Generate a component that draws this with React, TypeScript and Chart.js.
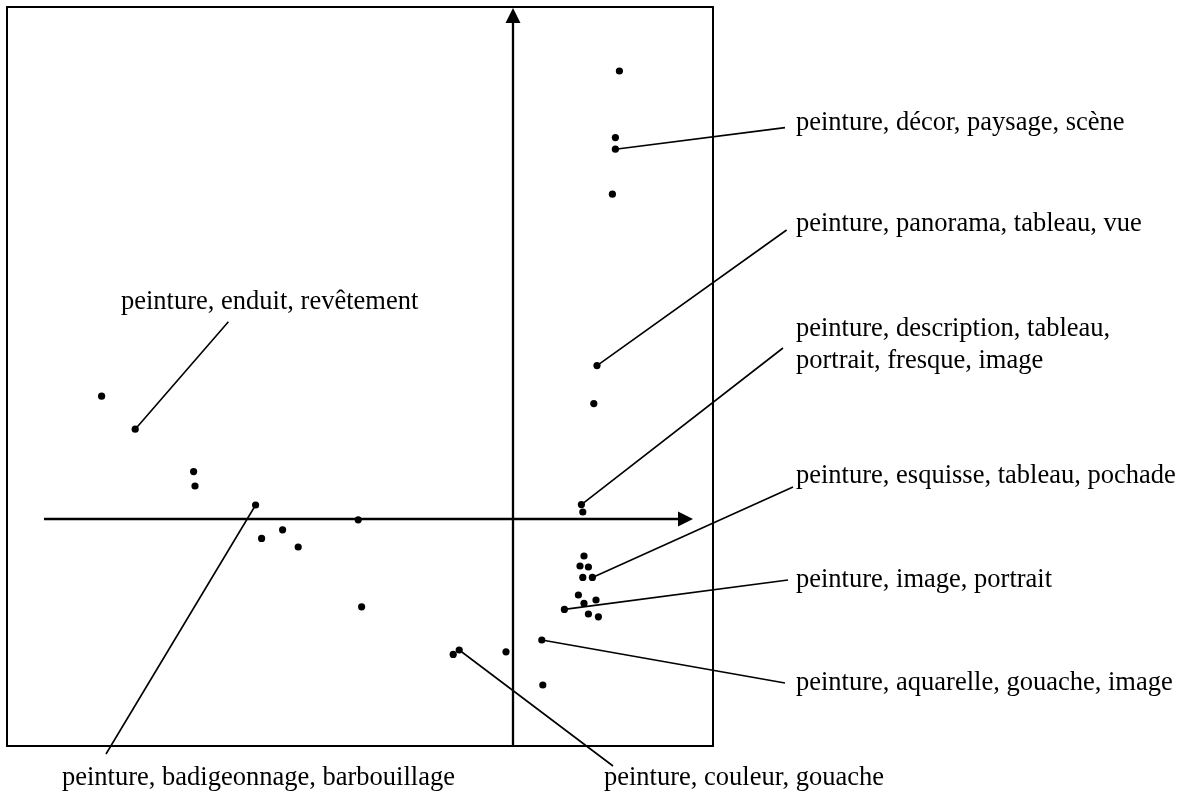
import { useEffect, useRef } from "react";
import { Chart, registerables } from "chart.js";

Chart.register(...registerables);

// Factor-plane coordinates of the 34 words (axis 1 horizontal, axis 2 vertical)
const pointsX: number[] = [
  0.532, 0.512, 0.512, 0.497, 0.42, 0.404, 0.342, 0.349, 0.355, 0.335, 0.377, 0.349,
  0.397, 0.327, 0.415, 0.355, 0.257, 0.377, 0.427, 0.144, -0.035, -0.269, -0.299, 0.149,
  -0.757, -2.057, -1.889, -1.597, -1.59, -1.287, -0.774, -1.152, -1.257, -1.074,
];
const pointsY: number[] = [
  2.24, 1.907, 1.849, 1.624, 0.767, 0.577, 0.072, 0.035, -0.185, -0.235, -0.24, -0.292,
  -0.292, -0.38, -0.405, -0.422, -0.452, -0.475, -0.489, -0.605, -0.664, -0.655, -0.677, -0.83,
  -0.439, 0.614, 0.449, 0.237, 0.165, 0.07, -0.004, -0.054, -0.097, -0.14,
];

// Annotations
const labelLines: string[][] = [
  ["peinture, décor, paysage, scène"],
  ["peinture, panorama, tableau, vue"],
  ["peinture, description, tableau,", "portrait, fresque, image"],
  ["peinture, esquisse, tableau, pochade"],
  ["peinture, image, portrait"],
  ["peinture, aquarelle, gouache, image"],
  ["peinture, enduit, revêtement"],
  ["peinture, badigeonnage, barbouillage"],
  ["peinture, couleur, gouache"],
];
const labelTarget: number[] = [2, 4, 6, 12, 16, 19, 26, 29, 21];
const leaderEndX: number[] = [1.36, 1.368, 1.35, 1.4, 1.375, 1.36, -1.423, -2.035, 0.5];
const leaderEndY: number[] = [1.957, 1.445, 0.855, 0.16, -0.305, -0.82, 0.986, -1.175, -1.235];
const labelX: number[] = [1.415, 1.415, 1.415, 1.415, 1.415, 1.415, -1.96, -2.255, 0.455];
const labelY: number[] = [1.945, 1.44, 0.915, 0.18, -0.34, -0.855, 1.05, -1.33, -1.33];

// Scale extents and axis arrows (data units)
const X_MIN = -2.53;
const X_MAX = 1.0;
const Y_MIN = -1.135;
const Y_MAX = 2.56;
const X_AXIS_FROM = -2.345;
const X_AXIS_TO = 0.9;
const Y_AXIS_FROM = Y_MIN;
const Y_AXIS_TO = 2.555;

const FONT = '26.5px "Liberation Serif", "Times New Roman", serif';
const LINE_GAP = 32;

const decorPlugin = {
  id: "decor",
  beforeDatasetsDraw(chart: any) {
    const { ctx, chartArea, scales } = chart;
    const xs = scales.x;
    const ys = scales.y;
    ctx.save();
    ctx.strokeStyle = "#000";
    ctx.fillStyle = "#000";
    // frame
    ctx.lineWidth = 2;
    ctx.strokeRect(chartArea.left, chartArea.top, chartArea.right - chartArea.left, chartArea.bottom - chartArea.top);
    // axes
    const x0 = xs.getPixelForValue(0);
    const y0 = ys.getPixelForValue(0);
    const xa = xs.getPixelForValue(X_AXIS_FROM);
    const xb = xs.getPixelForValue(X_AXIS_TO);
    const ya = ys.getPixelForValue(Y_AXIS_FROM);
    const yb = ys.getPixelForValue(Y_AXIS_TO);
    const head = 15;
    const half = 7.5;
    ctx.lineWidth = 2.3;
    ctx.beginPath();
    ctx.moveTo(xa, y0);
    ctx.lineTo(xb - head + 1, y0);
    ctx.moveTo(x0, ya);
    ctx.lineTo(x0, yb + head - 1);
    ctx.stroke();
    ctx.beginPath();
    ctx.moveTo(xb, y0);
    ctx.lineTo(xb - head, y0 - half);
    ctx.lineTo(xb - head, y0 + half);
    ctx.closePath();
    ctx.fill();
    ctx.beginPath();
    ctx.moveTo(x0, yb);
    ctx.lineTo(x0 - half, yb + head);
    ctx.lineTo(x0 + half, yb + head);
    ctx.closePath();
    ctx.fill();
    // leader lines
    ctx.lineWidth = 1.6;
    ctx.beginPath();
    labelTarget.forEach((idx, i) => {
      ctx.moveTo(xs.getPixelForValue(pointsX[idx]), ys.getPixelForValue(pointsY[idx]));
      ctx.lineTo(xs.getPixelForValue(leaderEndX[i]), ys.getPixelForValue(leaderEndY[i]));
    });
    ctx.stroke();
    // label texts
    ctx.font = FONT;
    ctx.textAlign = "left";
    ctx.textBaseline = "alphabetic";
    labelLines.forEach((lines, i) => {
      const px = xs.getPixelForValue(labelX[i]);
      const py = ys.getPixelForValue(labelY[i]);
      lines.forEach((t, k) => ctx.fillText(t, px, py + k * LINE_GAP));
    });
    ctx.restore();
  },
};

export default function App() {
  const ref = useRef<HTMLCanvasElement | null>(null);
  useEffect(() => {
    if (!ref.current) return;
    const chart = new Chart(ref.current, {
      type: "scatter",
      data: {
        datasets: [
          {
            data: pointsX.map((x, i) => ({ x, y: pointsY[i] })),
            pointRadius: 3.6,
            pointBackgroundColor: "#000",
            pointBorderWidth: 0,
            borderColor: "#000",
          },
        ],
      },
      options: {
        responsive: false,
        animation: false,
        devicePixelRatio: 1,
        layout: { padding: { left: 7, top: 7, right: 474, bottom: 50 } },
        plugins: { legend: { display: false }, tooltip: { enabled: false } },
        scales: {
          x: { type: "linear", min: X_MIN, max: X_MAX, display: false },
          y: { type: "linear", min: Y_MIN, max: Y_MAX, display: false },
        },
      },
      plugins: [decorPlugin],
    });
    return () => chart.destroy();
  }, []);
  return (
    <div style={{ position: "absolute", left: 0, top: 0, width: 1187, height: 796, background: "#fff" }}>
      <canvas ref={ref} width={1187} height={796} />
    </div>
  );
}
